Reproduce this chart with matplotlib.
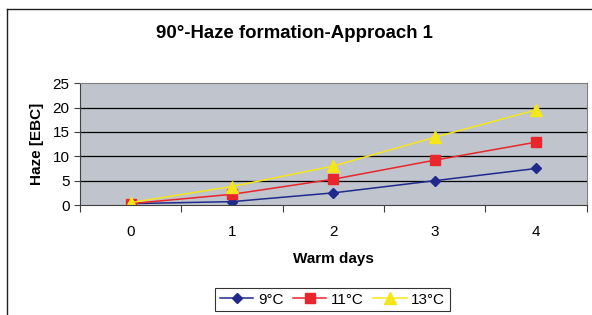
import matplotlib.pyplot as plt
from matplotlib.lines import Line2D

days = [0, 1, 2, 3, 4]
haze_9 = [0.3, 0.7, 2.5, 5.0, 7.5]
haze_11 = [0.3, 2.2, 5.3, 9.2, 12.9]
haze_13 = [0.5, 3.8, 8.0, 13.9, 19.5]
labels = ['9°C', '11°C', '13°C']

plt.rcParams['font.family'] = ['Liberation Sans', 'DejaVu Sans']

fig = plt.figure(figsize=(5.92, 3.15), dpi=100)
ax = fig.add_axes([0.135, 0.349, 0.856, 0.387])
ax.set_facecolor('#c0c4cc')

ax.plot(days, haze_9, color='#1f2a8c', marker='D', ms=5.5, lw=1.1, label=labels[0])
ax.plot(days, haze_11, color='#e8262b', marker='s', ms=6.5, lw=1.1, label=labels[1])
ax.plot(days, haze_13, color='#f5e51b', marker='^', ms=8, lw=1.1, label=labels[2])

ax.set_xlim(-0.5, 4.5)
ax.set_ylim(0, 25)
ax.set_yticks(range(0, 26, 5))
for y in range(5, 25, 5):
    ax.axhline(y, color='black', lw=0.9, zorder=1)
ax.axhline(25, color='#606060', lw=1.2, zorder=1)

ax.set_xticks([-0.5, 0.5, 1.5, 2.5, 3.5, 4.5])
ax.set_xticklabels([])
ax.set_xticks(days, minor=True)
ax.set_xticklabels([str(d) for d in days], minor=True)
ax.tick_params(axis='x', which='major', length=5, color='#404040')
ax.tick_params(axis='x', which='minor', length=0, labelsize=11, pad=14)
ax.tick_params(axis='y', length=4, labelsize=11, color='#404040')

for s in ['top', 'right']:
    ax.spines[s].set_color('#808080')
for s in ['left', 'bottom']:
    ax.spines[s].set_color('#404040')

ax.set_ylabel('Haze [EBC]', fontsize=11, fontweight='bold', labelpad=6)
ax.set_xlabel('Warm days', fontsize=11, fontweight='bold', labelpad=10)
fig.text(0.498, 0.893, '90°-Haze formation-Approach 1', ha='center', va='center',
         fontsize=13.4, fontweight='bold')

leg = fig.legend(loc='center', bbox_to_anchor=(0.5617, 0.049), ncol=3,
                 fontsize=11, frameon=True, fancybox=False, handlelength=2.2,
                 columnspacing=0.6, handletextpad=0.3, borderpad=0.3)
leg.get_frame().set_edgecolor('black')
leg.get_frame().set_linewidth(0.8)

# outer chart frame (only left and top visible)
fig.add_artist(Line2D([0.011, 0.011], [0, 0.972], color='#202020', lw=1, transform=fig.transFigure))
fig.add_artist(Line2D([0.011, 1.0], [0.972, 0.972], color='#202020', lw=1, transform=fig.transFigure))

fig.savefig('out.png', dpi=100)
